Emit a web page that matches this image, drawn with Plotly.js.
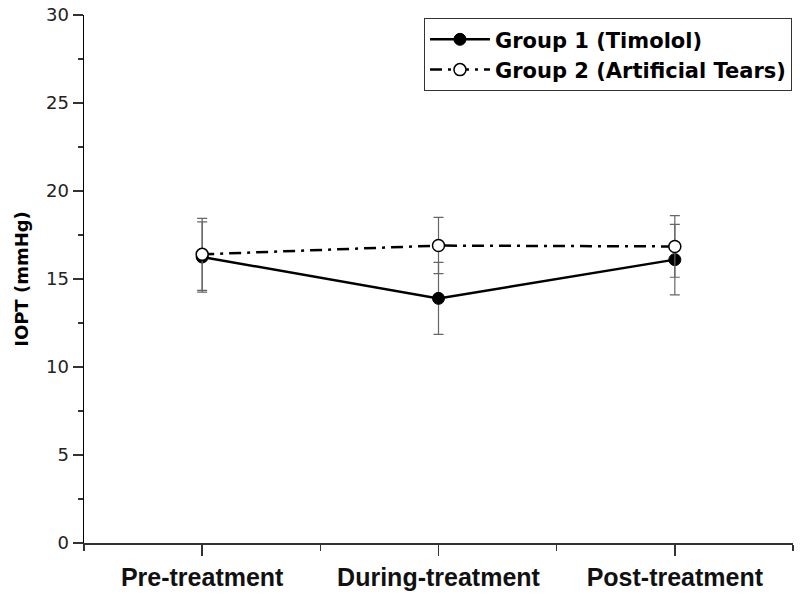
<!DOCTYPE html>
<html>
<head>
<meta charset="utf-8">
<script src="https://cdn.plot.ly/plotly-3.0.1.min.js"></script>
<style>html,body{margin:0;padding:0;background:#fff;}#chart{width:800px;height:595px;}</style>
</head>
<body>
<div id="chart"></div>
<script>
const categories = ["Pre-treatment", "During-treatment", "Post-treatment"];
const group1Name = "Group 1 (Timolol)";
const group1Mean = [16.25, 13.9, 16.1];
const group1Err = [2.0, 2.05, 2.0];
const group2Name = "Group 2 (Artificial Tears)";
const group2Mean = [16.4, 16.9, 16.85];
const group2Err = [2.05, 1.6, 1.75];
const yTicks = [0, 5, 10, 15, 20, 25, 30];

const xPos = categories.map((c, i) => i + 1);
const FONT = "Liberation Sans, Arial, sans-serif";
const WIDE = "DejaVu Sans, Verdana, sans-serif";

const trace1 = {
  x: xPos, y: group1Mean, name: group1Name, type: "scatter", mode: "lines+markers",
  line: {color: "#000", width: 2.5},
  marker: {symbol: "circle", size: 12, color: "#000", line: {color: "#000", width: 1}},
  error_y: {type: "data", array: group1Err, visible: true, color: "#666", thickness: 1.2, width: 5}
};
const trace2 = {
  x: xPos, y: group2Mean, name: group2Name, type: "scatter", mode: "lines+markers",
  line: {color: "#000", width: 2.5, dash: "12px,6px,3px,6px"},
  marker: {symbol: "circle", size: 12, color: "#fff", line: {color: "#000", width: 1.5}},
  error_y: {type: "data", array: group2Err, visible: true, color: "#666", thickness: 1.2, width: 5}
};

const layout = {
  width: 800, height: 595,
  margin: {l: 84, r: 7, t: 15, b: 52, autoexpand: false},
  paper_bgcolor: "#fff", plot_bgcolor: "#fff",
  showlegend: true,
  legend: {
    x: 0.4795, y: 0.994, xanchor: "left", yanchor: "top",
    bordercolor: "#333", borderwidth: 1, bgcolor: "#fff",
    font: {family: WIDE, size: 21, color: "#000", weight: "bold"},
    itemwidth: 60, tracegroupgap: 0
  },
  xaxis: {
    range: [0.5, 3.5], tickmode: "array", tickvals: xPos, ticktext: categories,
    showgrid: false, zeroline: false, showline: true, linecolor: "#333", linewidth: 1.5,
    ticks: "outside", ticklen: 11, tickwidth: 1.5, tickcolor: "#333",
    minor: {tickmode: "array", tickvals: [0.5, 1.5, 2.5, 3.5], ticks: "outside", ticklen: 6, tickwidth: 1.5, tickcolor: "#333"},
    tickfont: {family: FONT, size: 25, color: "#111", weight: "bold"},
    ticklabelstandoff: 0, automargin: false,
    fixedrange: true
  },
  yaxis: {
    range: [0, 30], tickmode: "array", tickvals: yTicks,
    showgrid: false, zeroline: false, showline: true, linecolor: "#000", linewidth: 1.5,
    ticks: "outside", ticklen: 10, tickwidth: 1.5, tickcolor: "#333",
    minor: {dtick: 2.5, ticks: "outside", ticklen: 5, tickwidth: 1.5, tickcolor: "#333"},
    tickfont: {family: WIDE, size: 18, color: "#222"},
    title: {text: "IOPT (mmHg)", font: {family: WIDE, size: 18, color: "#000", weight: "bold"}, standoff: 12},
    automargin: false,
    fixedrange: true
  }
};

Plotly.newPlot("chart", [trace1, trace2], layout, {displayModeBar: false, staticPlot: true});
</script>
</body>
</html>
